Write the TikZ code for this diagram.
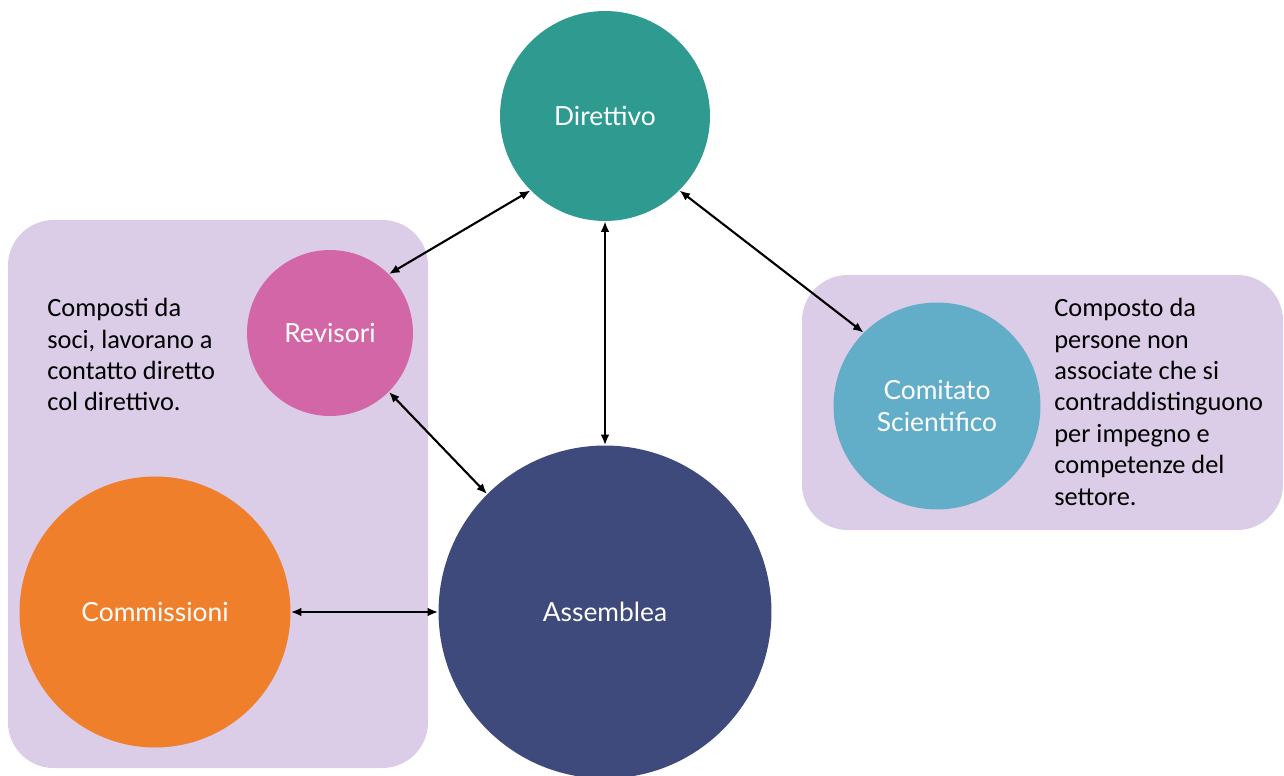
\documentclass[tikz,border=0pt]{standalone}
\usepackage{fontspec}
\setmainfont{Carlito}
\newfontfamily\labelfont{Lato}
\usepackage{xcolor}
\usepackage{tikz}
\usetikzlibrary{arrows.meta,positioning}
\definecolor{orgteal}{HTML}{2E9A90}
\definecolor{orgpink}{HTML}{D366A6}
\definecolor{orgsky}{HTML}{62AEC8}
\definecolor{orgorange}{HTML}{F07F2C}
\definecolor{orgnavy}{HTML}{3D4A7B}
\definecolor{orglilac}{HTML}{DBCDE7}
\tikzset{
  group/.style={fill=orglilac, draw=none, rounded corners=26pt},
  organ/.style={circle, draw=none, inner sep=0pt, text=white, align=center,
    font=\labelfont\fontsize{15}{18}\selectfont},
  note/.style={anchor=north west, inner sep=0pt, align=left,
    font=\fontsize{15}{17.9}\selectfont},
  link/.style={{Latex[length=6pt,width=5pt]}-{Latex[length=6pt,width=5pt]}, black, line width=1.2pt},
}
\begin{document}
\begin{tikzpicture}[x=0.02cm,y=-0.02cm]
  \useasboundingbox (0,0) rectangle (1284,776);
  % groups
  \fill[group] (8,220) rectangle (428,768);
  \fill[group] (802,275) rectangle (1283,530);
  % organs
  \node[organ, fill=orgteal, minimum size=4.2cm] (direttivo) at (605,116) {Direttivo};
  \node[organ, fill=orgpink, minimum size=3.32cm] (revisori) at (330,333) {Revisori};
  \node[organ, fill=orgsky, minimum size=4.14cm] (comitato) at (937,406) {Comitato\\Scientifico};
  \node[organ, fill=orgorange, minimum size=5.42cm] (commissioni) at (155,612) {Commissioni};
  \node[organ, fill=orgnavy, minimum size=6.66cm] (assemblea) at (605,612) {Assemblea};
  % notes
  \node[note] (notarev) at (47,298) {Composti da\\soci, lavorano a\\contatto diretto\\col direttivo.};
  \node[note] (notacom) at (1054,298) {Composto da\\persone non\\associate che si\\contraddistinguono\\per impegno e\\competenze del\\settore.};
  % links
  \draw[link] (direttivo.225) -- (revisori.45);
  \draw[link] (direttivo.south) -- (assemblea.north);
  \draw[link] (direttivo.-45) -- (comitato.135);
  \draw[link] (revisori.-45) -- (assemblea.135);
  \draw[link] (commissioni.east) -- (assemblea.west);
\end{tikzpicture}
\end{document}
